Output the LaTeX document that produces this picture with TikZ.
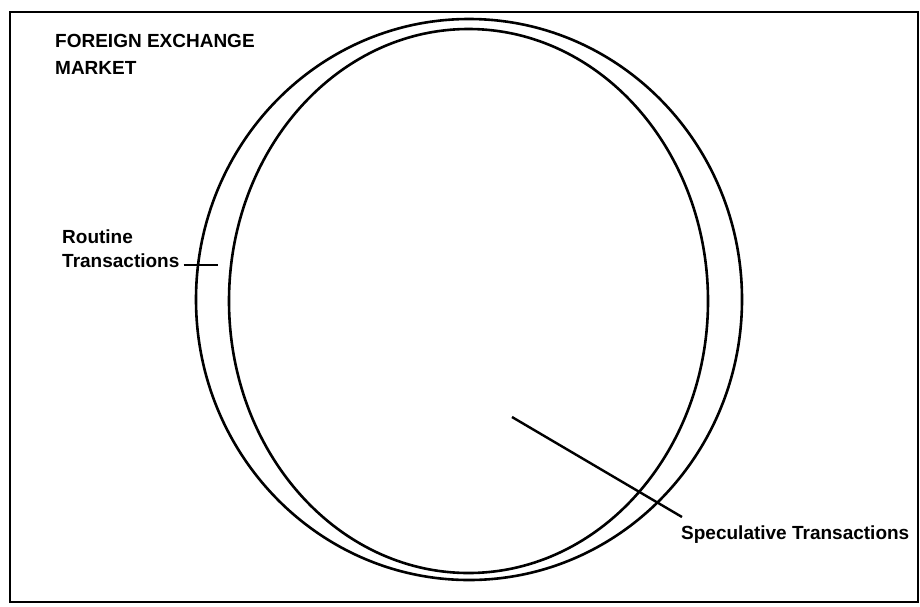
\documentclass[tikz,border=0pt]{standalone}
\usepackage{fontspec}
\setmainfont{Liberation Sans}
\usetikzlibrary{shapes.geometric}
\begin{document}
\begin{tikzpicture}[x=1pt,y=-1pt,
  line/.style={line width=2.4pt, black},
  ring/.style={ellipse, draw, line width=2.6pt, inner sep=0pt},
  lbl/.style={anchor=base west, inner sep=0pt, font=\fontsize{19}{23}\selectfont\bfseries}]
\useasboundingbox (0,0) rectangle (920,606);
\fill[white] (0,0) rectangle (920,606);
% frame
\node[draw, line width=2.4pt, minimum width=908pt, minimum height=590pt, inner sep=0pt] (frame) at (464,307) {};
% ellipses
\node[ring, minimum width=546pt, minimum height=561pt] (outer) at (469,299.5) {};
\node[ring, minimum width=479pt, minimum height=544pt] (inner) at (468.5,301) {};
% labels
\node[lbl] (title1) at (55,47) {FOREIGN EXCHANGE};
\node[lbl] (title2) at (55,74) {MARKET};
\node[lbl] (routine1) at (62,243) {Routine};
\node[lbl] (routine2) at (62,267) {Transactions};
\node[lbl] (spec) at (681,539) {Speculative Transactions};
% connectors
\coordinate (rtEnd) at (218,265);
\coordinate (spEnd) at (512,417);
\draw[line] ([shift={(4,-2)}]routine2.base east) -- (rtEnd);
\draw[line] ([shift={(1,-22)}]spec.base west) -- (spEnd);
\end{tikzpicture}
\end{document}
